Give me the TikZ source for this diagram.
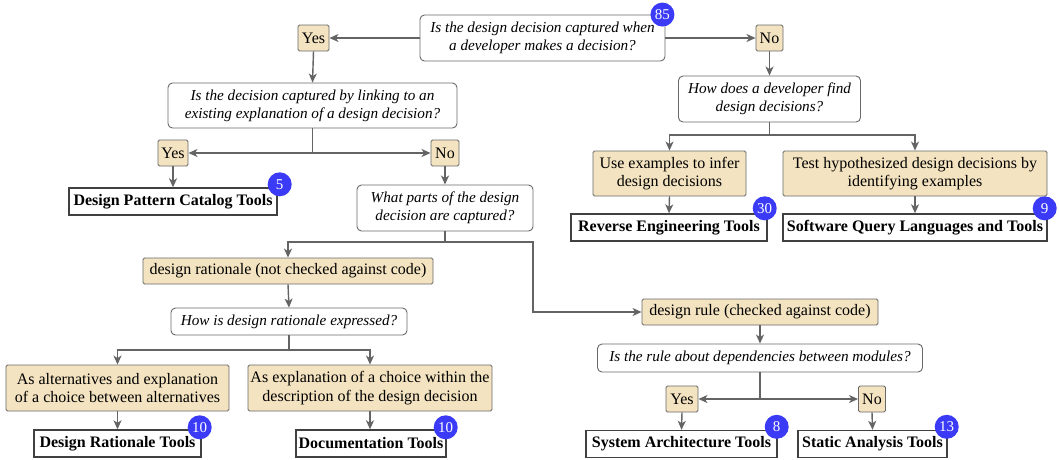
\documentclass[tikz,border=0pt]{standalone}
\usepackage{fontspec}
\setmainfont{Liberation Serif}
\newfontfamily\tnr{Liberation Serif}
\usetikzlibrary{arrows.meta,calc}
\definecolor{tan}{RGB}{243,227,192}
\definecolor{bord}{RGB}{105,105,105}
\definecolor{badgeblue}{RGB}{58,58,247}
\definecolor{arrc}{RGB}{100,100,100}
\tikzset{
  qbox/.style={draw=bord, line width=0.9pt, rounded corners=4.5pt, fill=white, font=\tnr\fontsize{15.2}{18}\selectfont\itshape, align=center, inner sep=0pt},
  ansbox/.style={draw=bord, line width=0.9pt, rounded corners=1.5pt, fill=tan, font=\tnr\fontsize{16}{18.5}\selectfont, align=center, inner sep=0pt},
  toolbox/.style={draw=black!75, line width=1.4pt, fill=white, font=\tnr\fontsize{16}{18.5}\selectfont\bfseries, align=center, inner sep=0pt},
  badge/.style={circle, fill=badgeblue, text=white, minimum size=24pt, inner sep=0pt, font=\tnr\fontsize{15}{15}\selectfont},
  arr/.style={draw=arrc, line width=1.4pt, -{Stealth[length=9pt,width=8pt,inset=2.5pt]}}
}
\begin{document}
\begin{tikzpicture}[x=1pt,y=-1pt]
\useasboundingbox (0,0) rectangle (1059,459);
% nodes
\node[qbox, minimum width=245pt, minimum height=46pt] (q1) at (542.5,38) {Is the design decision captured when\\a developer makes a decision?};
\node[ansbox, minimum width=31pt, minimum height=26pt] (yes1) at (313.5,38) {Yes};
\node[ansbox, minimum width=27pt, minimum height=26pt] (no1) at (769.5,38) {No};
\node[qbox, minimum width=289pt, minimum height=45pt] (q2) at (312.5,105.5) {Is the decision captured by linking to an\\existing explanation of a design decision?};
\node[ansbox, minimum width=30pt, minimum height=26pt] (yes2) at (173,153) {Yes};
\node[ansbox, minimum width=28pt, minimum height=26pt] (no2) at (445,153) {No};
\node[toolbox, minimum width=208pt, minimum height=27pt] (dpc) at (173,201.5) {Design Pattern Catalog Tools};
\node[qbox, minimum width=176pt, minimum height=46pt] (wp) at (445,208) {What parts of the design\\decision are captured?};
\node[ansbox, minimum width=290pt, minimum height=26pt] (rat) at (288,271) {design rationale (not checked against code)};
\node[qbox, minimum width=236pt, minimum height=27pt] (how) at (289,321.5) {How is design rationale expressed?};
\node[ansbox, minimum width=223pt, minimum height=46pt] (alt) at (117.5,388) {As alternatives and explanation\\of a choice between alternatives};
\node[ansbox, minimum width=244pt, minimum height=46pt] (expl) at (370,388) {As explanation of a choice within the\\description of the design decision};
\node[toolbox, minimum width=167pt, minimum height=27pt] (drt) at (117.5,443.5) {Design Rationale Tools};
\node[toolbox, minimum width=150pt, minimum height=27pt] (doct) at (371,443.5) {Documentation Tools};
\node[qbox, minimum width=182pt, minimum height=46pt] (q3) at (769.5,99) {How does a developer find\\design decisions?};
\node[ansbox, minimum width=153pt, minimum height=45pt] (use) at (669.5,173.5) {Use examples to infer\\design decisions};
\node[ansbox, minimum width=264pt, minimum height=45pt] (test) at (915,173.5) {Test hypothesized design decisions by\\identifying examples};
\node[toolbox, minimum width=196pt, minimum height=27pt] (ret) at (669,227.5) {Reverse Engineering Tools};
\node[toolbox, minimum width=264pt, minimum height=27pt] (sql) at (915,227.5) {Software Query Languages and Tools};
\node[ansbox, minimum width=236pt, minimum height=26pt] (rule) at (760,312) {design rule (checked against code)};
\node[qbox, minimum width=325pt, minimum height=28pt] (isr) at (760,358) {Is the rule about dependencies between modules?};
\node[ansbox, minimum width=32pt, minimum height=26pt] (yes3) at (682,399) {Yes};
\node[ansbox, minimum width=27pt, minimum height=26pt] (no3) at (872,399) {No};
\node[toolbox, minimum width=191pt, minimum height=27pt] (sat) at (681.5,444) {System Architecture Tools};
\node[toolbox, minimum width=149pt, minimum height=27pt] (st) at (872.5,444) {Static Analysis Tools};
% coordinates for splits
\coordinate (wpr) at (533,242);
\coordinate (hows) at (289,350);
\coordinate (q3s) at (769.5,135);
% connectors
\draw[arr] (q1.west) -- (yes1.east);
\draw[arr] (q1.east) -- (no1.west);
\draw[arr] (yes1.south) -- (q2.north);
\draw[arr] (no1.south) -- (q3.north);
\draw[arr] (q2.south) |- (yes2.east);
\draw[arr] (q2.south) |- (no2.west);
\draw[arr] (yes2.south) -- (dpc.north);
\draw[arr] (no2.south) -- (wp.north);
\draw[arr] (wp.south) -- (wp.south|-wpr) -| (rat.north);
\draw[arr] (wp.south) -- (wp.south|-wpr) -- (wpr) |- (rule.west);
\draw[arr] (rat.south) -- (how.north);
\draw[arr] (how.south) -- (hows) -| (alt.north);
\draw[arr] (how.south) -- (hows) -| (expl.north);
\draw[arr] (alt.south) -- (drt.north);
\draw[arr] (expl.south) -- (expl.south|-doct.north);
\draw[arr] (q3.south) -- (q3s) -| (use.north);
\draw[arr] (q3.south) -- (q3s) -| (test.north);
\draw[arr] (use.south) -- (ret.north);
\draw[arr] (test.south) -- (sql.north);
\draw[arr] (rule.south) -- (isr.north);
\draw[arr] (isr.south) |- (yes3.east);
\draw[arr] (isr.south) |- (no3.west);
\draw[arr] (yes3.south) -- (sat.north);
\draw[arr] (no3.south) -- (st.north);
% badges
\node[badge] (b85) at ($(q1.north east)+(-3,0)$) {85};
\node[badge] (b5) at ($(dpc.north east)+(2,-3)$) {5};
\node[badge] (b30) at ($(ret.north east)+(-3,-5)$) {30};
\node[badge] (b9) at ($(sql.north east)+(-3,-5)$) {9};
\node[badge] (b10a) at ($(drt.north east)+(-2,-2)$) {10};
\node[badge] (b10b) at ($(doct.north east)+(-1,-2)$) {10};
\node[badge] (b8) at ($(sat.north east)+(-1,-3)$) {8};
\node[badge] (b13) at ($(st.north east)+(-1,-3)$) {13};
\end{tikzpicture}
\end{document}
